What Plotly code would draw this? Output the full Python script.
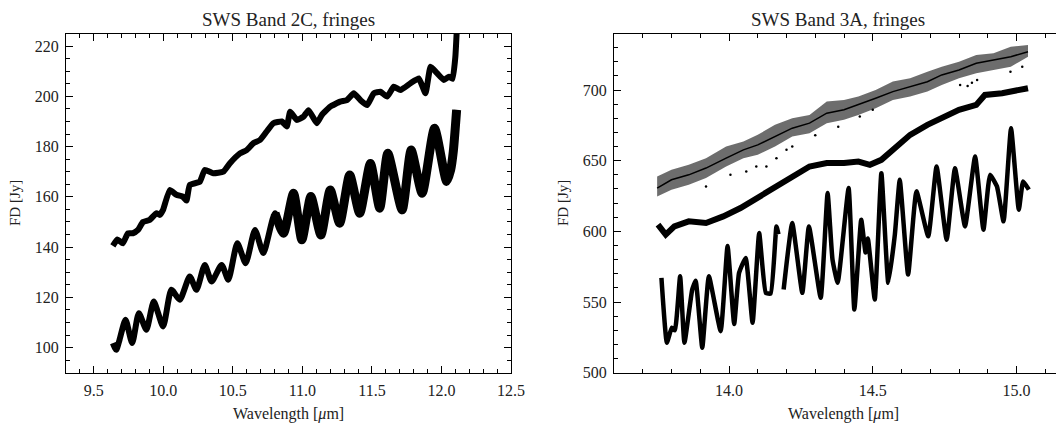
import numpy as np
import plotly.graph_objects as go

# ---------------- Left panel: SWS Band 2C ----------------
b2c_upper_wl = [9.637, 9.670, 9.709, 9.745, 9.781, 9.818, 9.854, 9.902, 9.950, 9.974, 9.998,
                10.046, 10.094, 10.142, 10.166, 10.190, 10.262, 10.298, 10.359, 10.431, 10.479,
                10.551, 10.599, 10.647, 10.695, 10.743, 10.791, 10.852, 10.888, 10.912, 10.960,
                11.008, 11.044, 11.104, 11.140, 11.200, 11.272, 11.320, 11.369, 11.417, 11.465,
                11.513, 11.561, 11.609, 11.657, 11.705, 11.777, 11.837, 11.885, 11.922, 11.970,
                12.018, 12.054, 12.080, 12.100, 12.109]
b2c_upper_fd = [140.5, 143.0, 141.5, 145.5, 145.5, 146.8, 150.0, 150.8, 153.5, 152.8, 154.8,
                162.7, 160.8, 160.0, 158.5, 164.7, 166.0, 170.7, 169.4, 170.0, 173.4,
                177.3, 178.6, 181.3, 182.6, 186.0, 189.3, 190.0, 188.0, 193.9, 190.6,
                191.9, 194.5, 189.3, 192.6, 195.9, 197.9, 198.5, 201.2, 198.5, 196.5,
                201.2, 201.8, 199.9, 203.8, 202.5, 205.2, 207.1, 201.2, 211.8, 209.1,
                206.5, 207.8, 207.0, 215.8, 225.0]

b2c_lower_wl = [9.637, 9.661, 9.685, 9.728, 9.776, 9.824, 9.878, 9.931, 9.998, 10.058, 10.118,
                10.190, 10.238, 10.298, 10.347, 10.419, 10.467, 10.532, 10.592, 10.659, 10.719,
                10.803, 10.864, 10.936, 10.996, 11.061, 11.133, 11.200, 11.268, 11.340, 11.412,
                11.489, 11.556, 11.614, 11.717, 11.782, 11.861, 11.950, 12.037, 12.066, 12.085,
                12.109]
b2c_lower_fd = [101.8, 99.1, 103.1, 111.1, 101.8, 113.7, 107.1, 118.3, 108.4, 123.0, 119.0,
                128.3, 123.0, 132.9, 126.3, 132.9, 127.0, 141.5, 133.6, 146.8, 137.6,
                153.5, 145.5, 161.4, 142.9, 160.1, 144.8, 162.7, 149.5, 168.7, 153.5,
                173.3, 155.5, 177.3, 154.8, 178.6, 161.4, 187.3, 166.1, 170.7, 178.0,
                194.6]

# ---------------- Right panel: SWS Band 3A ----------------
b3a_top_wl = [13.750, 13.800, 13.860, 13.920, 13.990, 14.050, 14.100, 14.160, 14.220, 14.280,
              14.340, 14.400, 14.450, 14.510, 14.570, 14.630, 14.690, 14.740, 14.800, 14.860,
              14.920, 14.980, 15.040]
b3a_top_fd = [630.6, 636.5, 640.0, 644.8, 651.8, 657.7, 661.2, 667.1, 673.0, 676.6,
              683.6, 686.0, 689.5, 694.2, 698.9, 702.4, 705.9, 710.7, 714.2, 718.9,
              721.3, 723.6, 727.1]
b3a_top_hi = [638.9, 643.6, 647.1, 651.8, 660.0, 663.6, 668.3, 675.4, 680.1, 682.4,
              691.8, 693.0, 695.4, 700.1, 706.0, 708.3, 713.0, 716.5, 720.1, 724.8,
              726.0, 730.7, 731.9]
b3a_top_lo = [624.7, 629.5, 633.0, 637.7, 645.9, 651.8, 654.2, 660.0, 667.1, 669.5,
              676.5, 678.9, 682.4, 687.1, 693.0, 695.4, 698.9, 703.6, 708.3, 711.8,
              714.2, 716.5, 723.6]

b3a_dots_wl = [13.920, 14.005, 14.060, 14.095, 14.130, 14.165, 14.200, 14.220, 14.300, 14.380,
               14.455, 14.500, 14.804, 14.830, 14.845, 14.863, 14.979, 15.020]
b3a_dots_fd = [631.8, 640.0, 642.4, 645.9, 645.9, 651.8, 657.7, 660.0, 668.0, 674.0,
               681.2, 686.0, 703.6, 702.9, 705.2, 707.1, 713.0, 716.5]

b3a_mid_wl = [13.753, 13.780, 13.810, 13.860, 13.920, 13.980, 14.040, 14.100, 14.160, 14.220,
              14.280, 14.340, 14.400, 14.450, 14.490, 14.530, 14.580, 14.630, 14.690, 14.740,
              14.800, 14.860, 14.890, 14.950, 15.000, 15.040]
b3a_mid_fd = [604.7, 597.7, 603.5, 607.1, 605.9, 610.6, 616.5, 623.6, 631.8, 638.8,
              645.9, 648.3, 648.3, 649.4, 647.1, 650.6, 660.0, 668.3, 675.4, 680.1,
              686.0, 689.5, 696.5, 697.7, 700.0, 701.3]

b3a_low1_wl = [13.765, 13.784, 13.801, 13.812, 13.830, 13.845, 13.872, 13.884, 13.907, 13.930,
               13.971, 13.995, 14.018, 14.035, 14.058, 14.082, 14.105, 14.128, 14.145, 14.165,
               14.172]
b3a_low1_fd = [567.1, 521.2, 531.8, 530.0, 568.2, 521.2, 558.8, 565.0, 517.7, 568.2,
               529.4, 589.6, 534.4, 570.6, 581.2, 535.3, 598.8, 556.5, 556.0, 603.5,
               598.0]
b3a_low2_wl = [14.190, 14.220, 14.255, 14.278, 14.319, 14.343, 14.360, 14.378, 14.416, 14.436,
               14.460, 14.475, 14.483, 14.507, 14.530, 14.554, 14.577, 14.594, 14.623, 14.652,
               14.693, 14.722, 14.757, 14.786, 14.821, 14.856, 14.885, 14.908, 14.932, 14.955,
               14.981, 15.008, 15.023, 15.043]
b3a_low2_fd = [558.8, 605.9, 556.5, 603.5, 553.0, 627.1, 580.0, 563.6, 630.6, 544.7,
               608.3, 585.0, 595.0, 551.8, 641.2, 563.6, 598.0, 636.5, 569.4, 628.3,
               596.5, 645.9, 594.1, 644.7, 603.5, 653.0, 601.2, 640.0, 631.8, 607.1,
               673.0, 615.3, 635.3, 629.5]

INK = "black"
TXT = "#222222"
FONT = "Liberation Serif"

fig = go.Figure()

# left panel
lw = np.array(b2c_lower_wl)
lf = np.array(b2c_lower_fd)
fig.add_trace(go.Scatter(x=b2c_upper_wl, y=b2c_upper_fd, mode="lines",
                         line=dict(color=INK, width=6, shape="spline", smoothing=0.4),
                         xaxis="x", yaxis="y"))
fig.add_trace(go.Scatter(x=b2c_lower_wl, y=b2c_lower_fd, mode="lines",
                         line=dict(color=INK, width=6, shape="spline", smoothing=0.6),
                         xaxis="x", yaxis="y"))
m = lw >= 10.75
fig.add_trace(go.Scatter(x=lw[m], y=lf[m], mode="lines",
                         line=dict(color=INK, width=9, shape="spline", smoothing=0.6),
                         xaxis="x", yaxis="y"))

# right panel
fig.add_trace(go.Scatter(x=b3a_top_wl, y=b3a_top_lo, mode="lines",
                         line=dict(color="rgba(0,0,0,0)", width=0), xaxis="x2", yaxis="y2"))
fig.add_trace(go.Scatter(x=b3a_top_wl, y=b3a_top_hi, mode="lines", fill="tonexty",
                         fillcolor="rgba(20,20,20,0.62)",
                         line=dict(color="rgba(0,0,0,0)", width=0), xaxis="x2", yaxis="y2"))
fig.add_trace(go.Scatter(x=b3a_top_wl, y=b3a_top_fd, mode="lines",
                         line=dict(color=INK, width=1.5), xaxis="x2", yaxis="y2"))
fig.add_trace(go.Scatter(x=b3a_dots_wl, y=b3a_dots_fd, mode="markers",
                         marker=dict(color=INK, size=2.5), xaxis="x2", yaxis="y2"))
fig.add_trace(go.Scatter(x=b3a_mid_wl, y=b3a_mid_fd, mode="lines",
                         line=dict(color=INK, width=6), xaxis="x2", yaxis="y2"))
fig.add_trace(go.Scatter(x=b3a_low1_wl, y=b3a_low1_fd, mode="lines",
                         line=dict(color=INK, width=4.5, shape="spline", smoothing=0.4),
                         xaxis="x2", yaxis="y2"))
fig.add_trace(go.Scatter(x=b3a_low2_wl, y=b3a_low2_fd, mode="lines",
                         line=dict(color=INK, width=4.5, shape="spline", smoothing=0.4),
                         xaxis="x2", yaxis="y2"))

# The page body adds an 8 px margin: lay out in page pixels, shifted by OFF.
OFF = 8
PW, PH = 1064, 429
W, H = PW - OFF, PH - OFF

def fx(px):
    return (px - OFF) / W

def fy(py):
    return 1 - (py - OFF) / H

L1, R1 = fx(66), fx(511)
L2, R2 = fx(614), fx(1062.5)
B, T = fy(372.7), fy(33.5)

def axstyle(**kw):
    d = dict(showline=True, linecolor=INK, linewidth=1, mirror="allticks",
             ticks="inside", ticklen=7, tickwidth=1, tickcolor=INK,
             showgrid=False, zeroline=False,
             tickfont=dict(family=FONT, size=16, color=TXT),
             minor=dict(ticks="inside", ticklen=4, tickwidth=1, tickcolor=INK, showgrid=False))
    d.update(kw)
    return d

fig.update_layout(
    width=W, height=H, showlegend=False,
    paper_bgcolor="white", plot_bgcolor="white",
    margin=dict(l=0, r=0, t=0, b=0, autoexpand=False),
    xaxis=axstyle(domain=[L1, R1], range=[9.3, 12.5], dtick=0.5, tick0=0, tickformat=".1f",
                  anchor="y", ticklabelstandoff=3, minor_dtick=0.1),
    yaxis=axstyle(domain=[B, T], range=[90, 225], dtick=20, tick0=0, anchor="x",
                  ticklabelstandoff=3, minor_dtick=5),
    xaxis2=axstyle(domain=[L2, R2], range=[13.6, 15.16], dtick=0.5, tick0=0, tickformat=".1f",
                   anchor="y2", ticklabelstandoff=3, minor_dtick=0.1),
    yaxis2=axstyle(domain=[B, T], range=[500, 740], dtick=50, tick0=0, anchor="x2",
                   ticklabelstandoff=3, minor_dtick=10),
)

ann = []
def add_text(x, y, text, size, angle=0, yanchor="middle"):
    ann.append(dict(x=fx(x), y=fy(y), xref="paper", yref="paper", text=text,
                    showarrow=False, xanchor="center", yanchor=yanchor, textangle=angle,
                    borderpad=0, font=dict(family=FONT, size=size, color=TXT)))

add_text(288.5, 8, "SWS Band 2C, fringes", 19, yanchor="top")
add_text(838, 8, "SWS Band 3A, fringes", 19, yanchor="top")
add_text(288.5, 414, "Wavelength [<i>μ</i>m]", 16)
add_text(843, 414, "Wavelength [<i>μ</i>m]", 16)
add_text(15, 203, "FD [Jy]", 15, -90)
add_text(563, 203, "FD [Jy]", 15, -90)
fig.update_layout(annotations=ann)

fig.write_html("out.html")
